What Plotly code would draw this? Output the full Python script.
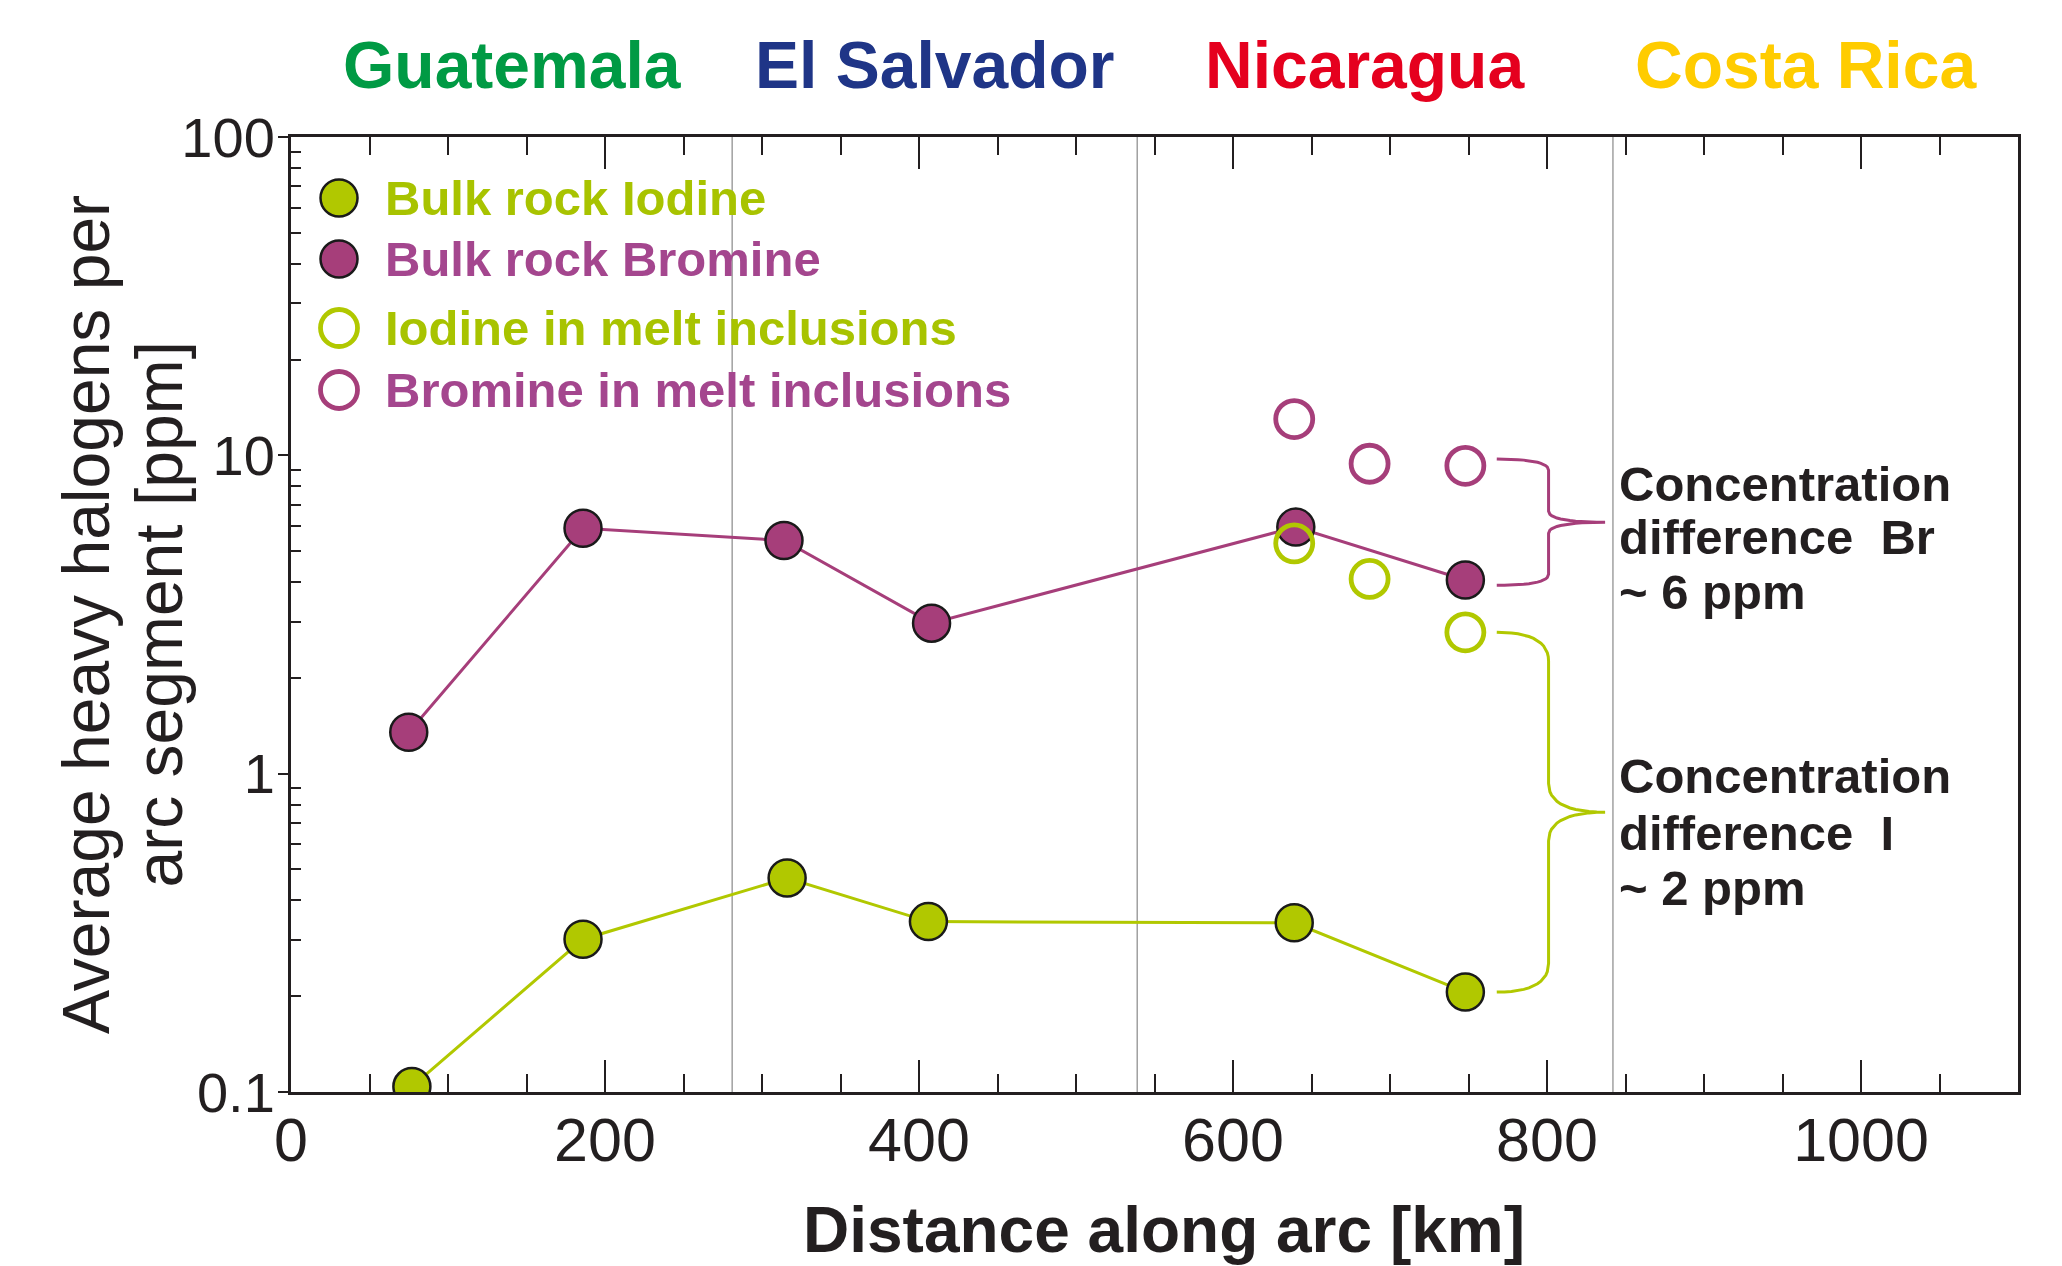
import numpy as np
import plotly.graph_objects as go

# ---------------- data ----------------
BULK_BR_KM = [75, 186, 314, 408, 640, 748]
BULK_BR_PPM = [1.35, 5.9, 5.4, 2.97, 5.95, 4.06]
BULK_I_KM = [77, 186, 316, 406, 639, 748]
BULK_I_PPM = [0.104, 0.302, 0.47, 0.343, 0.34, 0.206]
MELT_KM = [639, 687, 748]
MELT_BR_PPM = [13.0, 9.41, 9.27]
MELT_I_PPM = [5.29, 4.09, 2.78]

BORDERS_KM = [281, 539, 842]
COUNTRIES = ["Guatemala", "El Salvador", "Nicaragua", "Costa Rica"]
COUNTRY_KM = [141, 410, 684, 965]
COUNTRY_COLORS = ["#009A44", "#1F3587", "#E5001E", "#FFCC00"]

LEGEND_LABELS = ["Bulk rock Iodine", "Bulk rock Bromine",
                 "Iodine in melt inclusions", "Bromine in melt inclusions"]

X_TICKS = [0, 200, 400, 600, 800, 1000]
Y_TICKS = [0.1, 1, 10, 100]
Y_TICK_TEXT = ["0.1", "1", "10", "100"]
Y_MINOR = [m * 10.0 ** e for e in (-1, 0, 1) for m in range(2, 10)]

Y_TITLE = ["Average heavy halogens per", "arc segment [ppm]"]
BR_NOTE = ["Concentration", "difference\u00a0\u00a0Br", "~ 6 ppm"]
I_NOTE = ["Concentration", "difference\u00a0\u00a0I", "~ 2 ppm"]

BRACE_X = (768, 801, 837)  # start, spine, tip (km)

# ---------------- styles ----------------
GREEN = "#B1C800"
GREEN_TXT = "#A8C300"
PURPLE = "#A63E7A"
PURPLE_TXT = "#A4468E"
DARK = "#231F20"
FONT = "Liberation Sans, Arial, Helvetica, sans-serif"


def brace(x0, xv, xt, y_top, y_bot, r):
    t = np.linspace(0, 1, 14)
    lt, lb = np.log10(y_top), np.log10(y_bot)
    lm = (lt + lb) / 2

    def qb(p0, c, p1):
        return ((1 - t) ** 2 * p0[0] + 2 * (1 - t) * t * c[0] + t ** 2 * p1[0],
                (1 - t) ** 2 * p0[1] + 2 * (1 - t) * t * c[1] + t ** 2 * p1[1])

    segs = [
        qb((x0, lt), (xv, lt), (xv, lt - r)),
        qb((xv, lm + r), (xv, lm), (xt, lm)),
        qb((xt, lm), (xv, lm), (xv, lm - r)),
        qb((xv, lb + r), (xv, lb), (x0, lb)),
    ]
    xs = np.concatenate([s[0] for s in segs])
    ys = np.concatenate([s[1] for s in segs])
    return xs, 10 ** ys


fig = go.Figure()

# bulk rock bromine
fig.add_trace(go.Scatter(
    x=BULK_BR_KM, y=BULK_BR_PPM, mode="lines+markers",
    line=dict(color=PURPLE, width=3),
    marker=dict(size=37, color=PURPLE, line=dict(color="#1A1A1A", width=2.5)),
    showlegend=False))
# bulk rock iodine
fig.add_trace(go.Scatter(
    x=BULK_I_KM, y=BULK_I_PPM, mode="lines+markers",
    line=dict(color=GREEN, width=3),
    marker=dict(size=37, color=GREEN, line=dict(color="#1A1A1A", width=2.5)),
    showlegend=False))
# melt inclusions
fig.add_trace(go.Scatter(
    x=MELT_KM, y=MELT_BR_PPM, mode="markers",
    marker=dict(size=37, symbol="circle-open", color=PURPLE, line=dict(width=4.8)),
    showlegend=False))
fig.add_trace(go.Scatter(
    x=MELT_KM, y=MELT_I_PPM, mode="markers",
    marker=dict(size=37, symbol="circle-open", color=GREEN, line=dict(width=4.8)),
    showlegend=False))

# braces
bx, by = brace(*BRACE_X, MELT_BR_PPM[-1] * 1.05, BULK_BR_PPM[-1] / 1.04, 0.035)
fig.add_trace(go.Scatter(x=bx, y=by, mode="lines", line=dict(color=PURPLE, width=3),
                         showlegend=False, hoverinfo="skip"))
bx, by = brace(*BRACE_X, MELT_I_PPM[-1], BULK_I_PPM[-1], 0.09)
fig.add_trace(go.Scatter(x=bx, y=by, mode="lines", line=dict(color=GREEN, width=3),
                         showlegend=False, hoverinfo="skip"))

shapes = []
for b in BORDERS_KM:
    shapes.append(dict(type="line", xref="x", yref="paper", x0=b, x1=b, y0=0, y1=1,
                       line=dict(color="#A0A0A0", width=1.5), layer="below"))

# manual legend
leg_y = [0.9361, 0.8723, 0.8000, 0.7351]
leg_fill = [GREEN, PURPLE, "white", "white"]
leg_line = ["#1A1A1A", "#1A1A1A", GREEN, PURPLE]
leg_lw = [2.5, 2.5, 4.8, 4.8]
leg_txt = [GREEN_TXT, PURPLE_TXT, GREEN_TXT, PURPLE_TXT]
annotations = []
for lab, yy, fc, lc, lw, tc in zip(LEGEND_LABELS, leg_y, leg_fill, leg_line, leg_lw, leg_txt):
    shapes.append(dict(type="circle", xref="paper", yref="paper",
                       xsizemode="pixel", ysizemode="pixel",
                       xanchor=0.0278, yanchor=yy, x0=-18.5, x1=18.5, y0=-18.5, y1=18.5,
                       fillcolor=fc, line=dict(color=lc, width=lw)))
    annotations.append(dict(text=lab, xref="paper", yref="paper", x=0.0530, y=yy,
                            xanchor="left", yanchor="middle", showarrow=False,
                            font=dict(family=FONT, size=49, color=tc, weight="bold")))

# country labels
for name, km, col in zip(COUNTRIES, COUNTRY_KM, COUNTRY_COLORS):
    annotations.append(dict(text=name, xref="x", yref="paper", x=km, y=1.0759,
                            xanchor="center", yanchor="middle", showarrow=False,
                            font=dict(family=FONT, size=66, color=col, weight="bold")))

# concentration notes
for lines, ys in ((BR_NOTE, [0.6368, 0.5813, 0.5237]), (I_NOTE, [0.3310, 0.2713, 0.2138])):
    for txt, yy in zip(lines, ys):
        annotations.append(dict(text=txt, xref="paper", yref="paper", x=0.768, y=yy,
                                xanchor="left", yanchor="middle", showarrow=False,
                                font=dict(family=FONT, size=49, color=DARK, weight="bold")))

# axis titles
annotations.append(dict(text="Distance along arc [km]", xref="paper", yref="paper",
                        x=0.5055, y=-0.1445, xanchor="center", yanchor="middle",
                        showarrow=False,
                        font=dict(family=FONT, size=64, color=DARK, weight="bold")))
for txt, xx in zip(Y_TITLE, [-0.1190, -0.0770]):
    annotations.append(dict(text=txt, xref="paper", yref="paper", x=xx, y=0.5,
                            textangle=-90, xanchor="center", yanchor="middle",
                            showarrow=False,
                            font=dict(family=FONT, size=66, color=DARK)))

fig.update_layout(
    width=2062, height=1266,
    margin=dict(l=291, r=44, t=137, b=174),
    paper_bgcolor="white", plot_bgcolor="white",
    showlegend=False,
    shapes=shapes, annotations=annotations,
    xaxis=dict(range=[0, 1100], tickmode="array", tickvals=X_TICKS,
               ticks="inside", ticklen=32, tickwidth=2, tickcolor=DARK,
               minor=dict(dtick=50, tick0=0, ticks="inside", ticklen=18, tickwidth=2,
                          tickcolor=DARK, showgrid=False),
               showline=True, linecolor=DARK, linewidth=3, mirror="ticks",
               showgrid=False, zeroline=False, ticklabelstandoff=-7,
               tickfont=dict(family=FONT, size=61, color=DARK)),
    yaxis=dict(type="log", range=[-1, 2], tickmode="array", tickvals=Y_TICKS,
               ticktext=Y_TICK_TEXT,
               ticks="outside", ticklen=10, tickwidth=2, tickcolor=DARK,
               minor=dict(tickmode="array", tickvals=Y_MINOR, ticks="inside",
                          ticklen=10, tickwidth=2, tickcolor=DARK, showgrid=False),
               showline=True, linecolor=DARK, linewidth=3, mirror=True,
               showgrid=False, zeroline=False, ticklabelstandoff=-8,
               tickfont=dict(family=FONT, size=56, color=DARK)),
)

fig.write_html("out.html")
